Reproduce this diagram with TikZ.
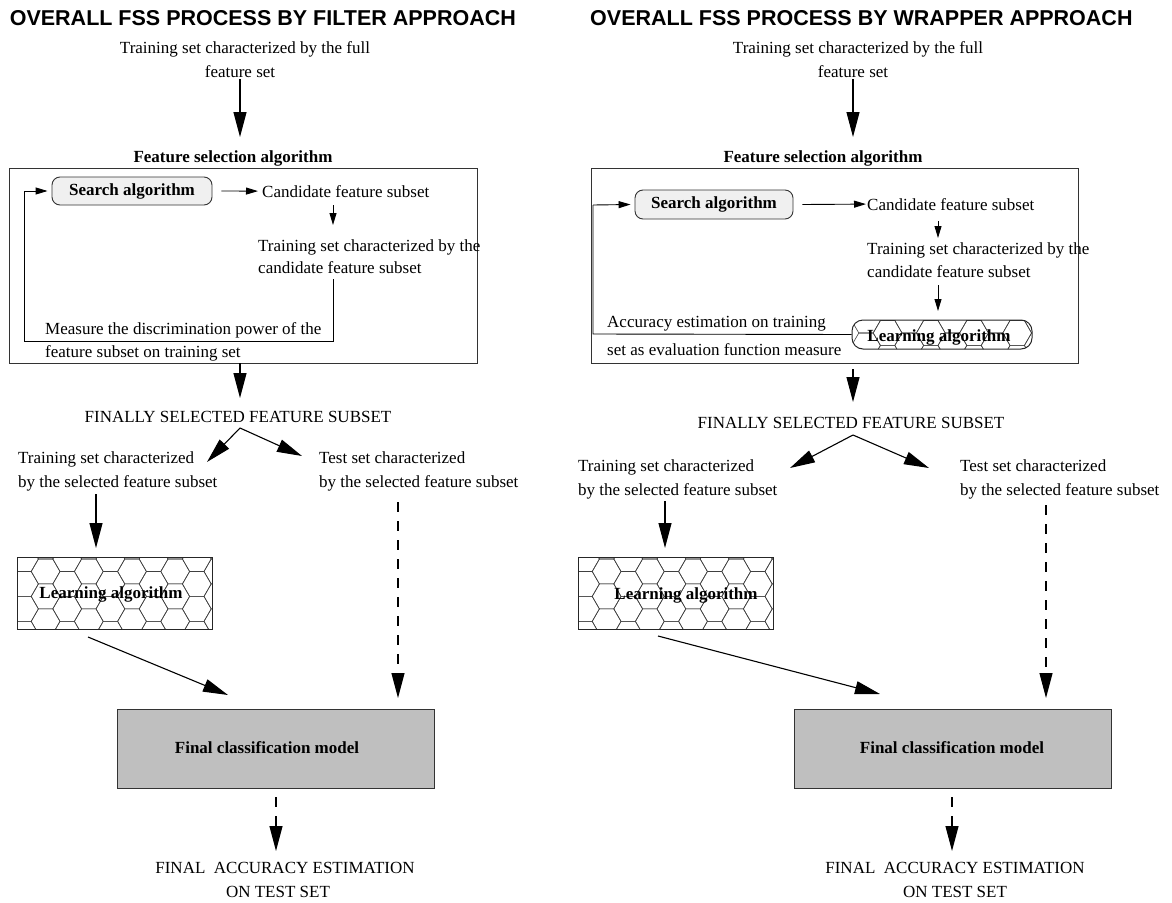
\documentclass[tikz,border=0pt]{standalone}
\usepackage{fontspec}
\setmainfont{Liberation Serif}
\newfontfamily\headfont{Liberation Sans}
\usetikzlibrary{arrows.meta}
% hexagon cell size (side, height)
\def\hs{14.4}
\def\hh{24.94}
% honeycomb fill: #1,#2 = centre of the first cell
\newcommand\honeycomb[2]{%
  \foreach \i in {0,...,14} {
    \foreach \j in {-1,...,4} {
      \pgfmathsetmacro\cx{#1 + 1.5*\hs*\i}
      \pgfmathsetmacro\cy{#2 + \hh*\j + mod(\i,2)*\hh/2}
      \draw[hexline] (\cx+\hs,\cy) -- (\cx+\hs/2,\cy+\hh/2) -- (\cx-\hs/2,\cy+\hh/2)
        -- (\cx-\hs,\cy) -- (\cx-\hs/2,\cy-\hh/2) -- (\cx+\hs/2,\cy-\hh/2) -- cycle;
    }
  }%
}
\begin{document}
\begin{tikzpicture}[x=1pt,y=-1pt,
  txt/.style={font=\fontsize{17}{20}\selectfont, inner sep=0pt},
  btxt/.style={font=\fontsize{17}{20}\selectfont\bfseries, inner sep=0pt},
  headline/.style={font=\headfont\fontsize{21.5}{24}\selectfont\bfseries, inner sep=0pt, anchor=base west},
  bigarrow/.style={line width=1.1pt, -{Triangle[length=25pt,width=13pt]}},
  smallarrow/.style={line width=0.9pt, -{Triangle[length=12pt,width=7pt]}},
  dasharrow/.style={bigarrow, dash pattern=on 10pt off 9pt},
  loopline/.style={line width=0.9pt},
  framebox/.style={draw=black!80, line width=1.2pt, inner sep=0pt, anchor=north west},
  searchbox/.style={draw=black!80, line width=0.9pt, fill=black!6, rounded corners=8pt,
    inner sep=0pt, font=\fontsize{17}{20}\selectfont\bfseries},
  finalbox/.style={draw=black!80, line width=1pt, fill=black!25, inner sep=0pt, anchor=north west},
  hexline/.style={draw=black!75, line width=0.6pt},
  hexframe/.style={draw=black!85, line width=1pt}
]
\useasboundingbox (0,0) rectangle (1172,902);

% ================= FILTER APPROACH =================
\node[headline] (ftitle) at (9.6,25) {OVERALL FSS PROCESS BY FILTER APPROACH};
\node[txt, anchor=base] (ftop1) at (245,53) {Training set characterized by the full};
\node[txt, anchor=base] (ftop2) at (240,77) {feature set};
\coordinate (fin) at (240,137);
\draw[bigarrow] (ftop2.south) ++(0,2) coordinate (ftopstart) -- (fin);

\node[btxt, anchor=base] (ffsa) at (233,162) {Feature selection algorithm};
\node[framebox, minimum width=468pt, minimum height=195pt] (fbox) at (9,168) {};

\node[searchbox, minimum width=160pt, minimum height=28pt] (fsearch) at (132,191) {Search algorithm};
\node[txt, anchor=base west] (fcand) at (262,197) {Candidate feature subset};
\draw[smallarrow] ([xshift=9pt]fsearch.east) -- ([xshift=-4pt]fcand.west);

\coordinate (fc1) at (333,205);
\coordinate (fc2) at (333,225);
\draw[smallarrow] (fc1) -- (fc2);
\node[txt, anchor=base west] (ftr1) at (258,251) {Training set characterized by the};
\node[txt, anchor=base west] (ftr2) at (258,273) {candidate feature subset};

\coordinate (ffb1) at (333,279);
\coordinate (ffb2) at (333,341);
\coordinate (ffb3) at (24,341);
\coordinate (ffb4) at (24,191);
\draw[loopline] (ffb1) -- (ffb2) -- (ffb3) -- (ffb4);
\draw[smallarrow] (ffb4) -- ([xshift=-4pt]fsearch.west);
\node[txt, anchor=base west] (fmeas1) at (45,334) {Measure the discrimination power of the};
\node[txt, anchor=base west] (fmeas2) at (45,357) {feature subset on training set};

\coordinate (fout) at (240,363);
\coordinate (fsel) at (240,398);
\draw[bigarrow] (fout) -- (fsel);
\node[txt, anchor=base] (ffinally) at (238,422) {FINALLY SELECTED FEATURE SUBSET};
\coordinate (fapex) at (240,428);
\coordinate (ftipL) at (207,462);
\coordinate (ftipR) at (302,456);
\draw[bigarrow] (fapex) -- (ftipL);
\draw[bigarrow] (fapex) -- (ftipR);

\node[txt, anchor=base west] (ftrain1) at (18,463) {Training set characterized};
\node[txt, anchor=base west] (ftrain2) at (18,487) {by the selected feature subset};
\node[txt, anchor=base west] (ftest1) at (319,463) {Test set characterized};
\node[txt, anchor=base west] (ftest2) at (319,487) {by the selected feature subset};

\coordinate (fl1) at (96,494);
\coordinate (fl2) at (96,548);
\draw[bigarrow] (fl1) -- (fl2);

% learning algorithm block with honeycomb fill
\begin{scope}
  \clip (17,557) rectangle (212,629);
  \honeycomb{24}{559}
\end{scope}
\node[hexframe, minimum width=195pt, minimum height=72pt, inner sep=0pt] (flearn) at (114.5,593) {};
\node[btxt] (flearnlbl) at (111,594) {Learning algorithm};

\coordinate (fd1) at (398,502);
\coordinate (fd2) at (398,698);
\draw[dasharrow] (fd1) -- (fd2);
\coordinate (fm1) at (88,637);
\coordinate (fm2) at (228,695);
\draw[bigarrow] (fm1) -- (fm2);

\node[finalbox, minimum width=317pt, minimum height=79pt] (ffinal) at (117,709) {};
\node[btxt] (ffinallbl) at (267,748) {Final classification model};

\coordinate (fe1) at (276,797);
\coordinate (fe2) at (276,851);
\draw[dasharrow] (fe1) -- (fe2);
\node[txt, anchor=base] (facc1) at (285,873) {FINAL\ \ ACCURACY ESTIMATION};
\node[txt, anchor=base] (facc2) at (278,897) {ON TEST SET};

% ================= WRAPPER APPROACH =================
\node[headline] (wtitle) at (590,25) {OVERALL FSS PROCESS BY WRAPPER APPROACH};
\node[txt, anchor=base] (wtop1) at (858,53) {Training set characterized by the full};
\node[txt, anchor=base] (wtop2) at (853,77) {feature set};
\coordinate (win) at (853,137);
\draw[bigarrow] (wtop2.south) ++(0,2) coordinate (wtopstart) -- (win);

\node[btxt, anchor=base] (wfsa) at (823,162) {Feature selection algorithm};
\node[framebox, minimum width=487pt, minimum height=195pt] (wbox) at (591,168) {};

\node[searchbox, minimum width=158pt, minimum height=29pt] (wsearch) at (714,204.5) {Search algorithm};
\node[txt, anchor=base west] (wcand) at (867,210) {Candidate feature subset};
\draw[smallarrow] ([xshift=9pt]wsearch.east) -- ([xshift=-1pt]wcand.west);

\coordinate (wc1) at (938,221);
\coordinate (wc2) at (938,238);
\draw[smallarrow] (wc1) -- (wc2);
\node[txt, anchor=base west] (wtr1) at (867,254) {Training set characterized by the};
\node[txt, anchor=base west] (wtr2) at (867,277) {candidate feature subset};
\coordinate (wc3) at (938,285);
\coordinate (wc4) at (938,311);
\draw[smallarrow] (wc3) -- (wc4);

% learning algorithm inside the loop
\begin{scope}
  \clip[rounded corners=11pt] (852,320) rectangle (1032,349);
  \honeycomb{866}{320.5}
\end{scope}
\node[hexframe, rounded corners=11pt, minimum width=180pt, minimum height=29pt, inner sep=0pt] (wlearn) at (942,334.5) {};
\node[btxt] (wlearnlbl) at (939,337) {Learning algorithm};

\coordinate (wfb1) at (593,334);
\coordinate (wfb2) at (593,205);
\draw[loopline] (wlearn.west) -- (wfb1) -- (wfb2);
\draw[smallarrow] (wfb2) -- ([xshift=-4pt]wsearch.west);
\node[txt, anchor=base west] (wacc1) at (607,327) {Accuracy estimation on training};
\node[txt, anchor=base west] (wacc2) at (607,355) {set as evaluation function measure};

\coordinate (wout) at (853,369);
\coordinate (wsel) at (853,402);
\draw[bigarrow] (wout) -- (wsel);
\node[txt, anchor=base] (wfinally) at (851,428) {FINALLY SELECTED FEATURE SUBSET};
\coordinate (wapex) at (853,435);
\coordinate (wtipL) at (790,468);
\coordinate (wtipR) at (929,468);
\draw[bigarrow] (wapex) -- (wtipL);
\draw[bigarrow] (wapex) -- (wtipR);

\node[txt, anchor=base west] (wtrain1) at (578,471) {Training set characterized};
\node[txt, anchor=base west] (wtrain2) at (578,495) {by the selected feature subset};
\node[txt, anchor=base west] (wtest1) at (960,471) {Test set characterized};
\node[txt, anchor=base west] (wtest2) at (960,495) {by the selected feature subset};

\coordinate (wl1) at (665,501);
\coordinate (wl2) at (665,548);
\draw[bigarrow] (wl1) -- (wl2);

\begin{scope}
  \clip (578,557) rectangle (773,629);
  \honeycomb{585}{559}
\end{scope}
\node[hexframe, minimum width=195pt, minimum height=72pt, inner sep=0pt] (wlearn2) at (675.5,593) {};
\node[btxt] (wlearn2lbl) at (686,595) {Learning algorithm};

\coordinate (wd1) at (1046,505);
\coordinate (wd2) at (1046,698);
\draw[dasharrow] (wd1) -- (wd2);
\coordinate (wm1) at (658,636);
\coordinate (wm2) at (880,694);
\draw[bigarrow] (wm1) -- (wm2);

\node[finalbox, minimum width=317pt, minimum height=79pt] (wfinal) at (794,709) {};
\node[btxt] (wfinallbl) at (952,748) {Final classification model};

\coordinate (we1) at (952,797);
\coordinate (we2) at (952,851);
\draw[dasharrow] (we1) -- (we2);
\node[txt, anchor=base] (wacc3) at (955,873) {FINAL\ \ ACCURACY ESTIMATION};
\node[txt, anchor=base] (wacc4) at (955,897) {ON TEST SET};
\end{tikzpicture}
\end{document}
